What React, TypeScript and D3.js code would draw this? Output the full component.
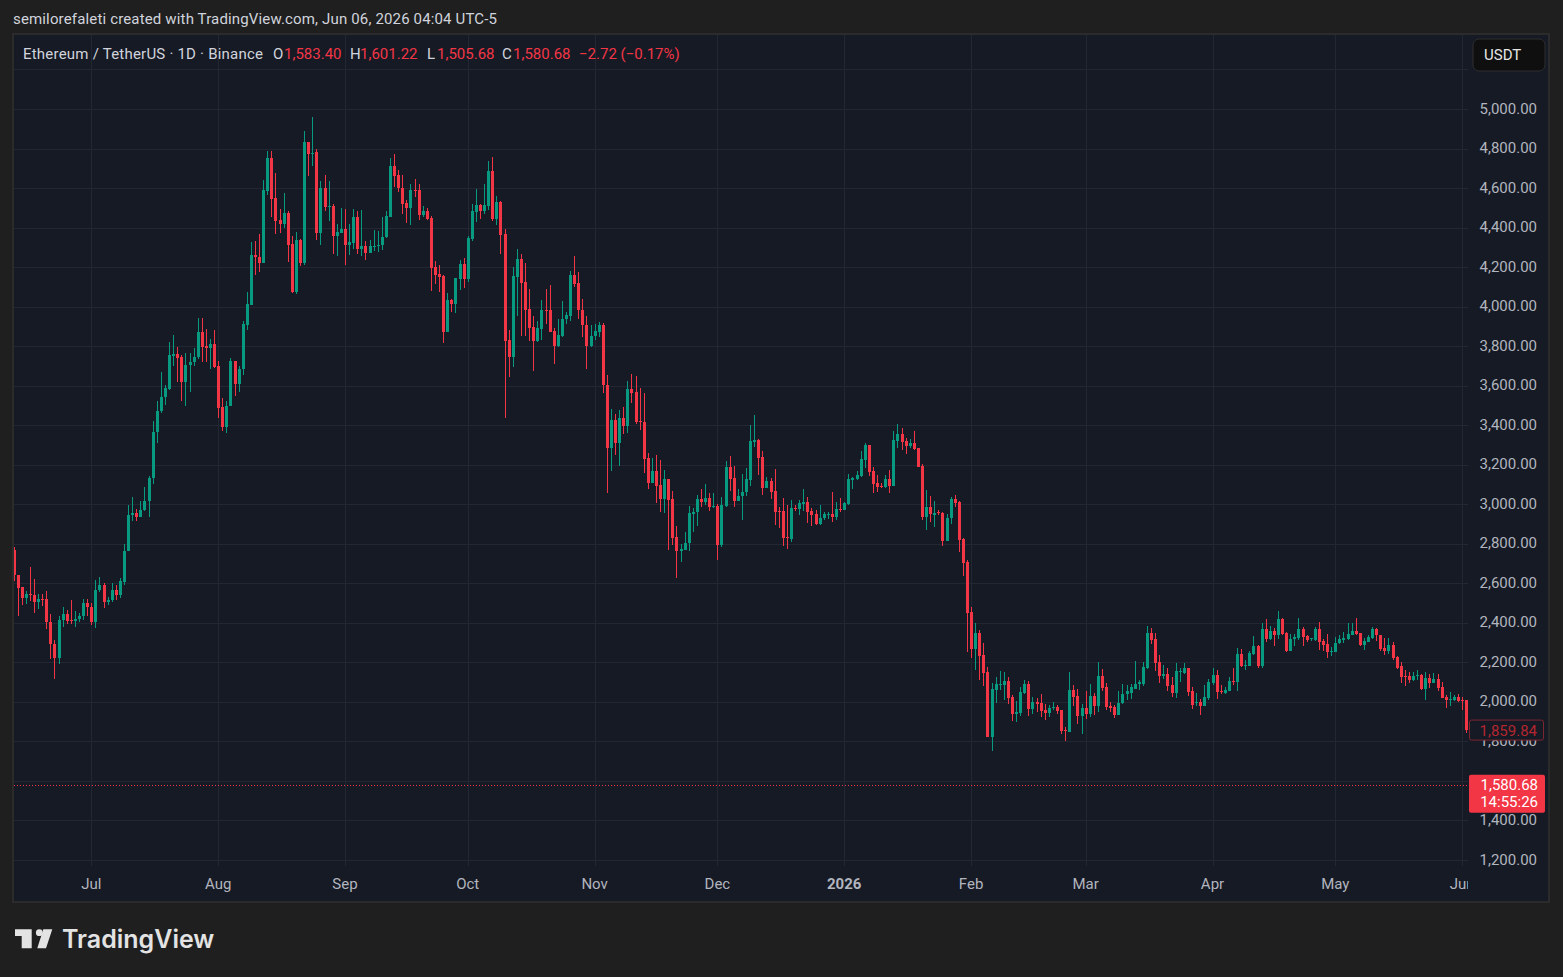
import React from 'react';
import * as d3 from 'd3';

// daily candles, first one is 2025-06-12
const firstDay = '2025-06-12';

const opens = [
  2771, 2644, 2579, 2525, 2548, 2543, 2503, 2523, 2520, 2403, 2292, 2224, 2412, 2447, 2412, 2410, 2418, 2437, 2498, 2481,
  2403, 2568, 2589, 2504, 2518, 2568, 2540, 2609, 2766, 2948, 2958, 2938, 2973, 3014, 3135, 3368, 3474, 3545, 3584, 3750,
  3762, 3747, 3621, 3707, 3722, 3743, 3870, 3800, 3793, 3812, 3700, 3493, 3393, 3495, 3726, 3611, 3682, 3908, 4009, 4262,
  4252, 4222, 4586, 4754, 4551, 4440, 4419, 4475, 4318, 4072, 4338, 4222, 4835, 4774, 4784, 4374, 4602, 4505, 4510, 4359,
  4374, 4394, 4313, 4323, 4455, 4293, 4308, 4273, 4303, 4308, 4313, 4354, 4453, 4711, 4665, 4601, 4524, 4498, 4590, 4589,
  4465, 4483, 4448, 4200, 4165, 4155, 3872, 4033, 4015, 4141, 4215, 4141, 4342, 4478, 4514, 4485, 4510, 4685, 4443, 4529,
  4367, 3831, 3745, 4152, 4241, 4124, 3988, 3897, 3826, 3888, 3983, 3983, 3877, 3801, 3851, 3937, 3955, 4161, 4121, 3984,
  3908, 3802, 3849, 3874, 3908, 3604, 3287, 3427, 3312, 3437, 3398, 3584, 3569, 3422, 3417, 3234, 3110, 3170, 3100, 3029,
  3130, 3029, 2836, 2765, 2771, 2806, 2953, 2963, 3029, 3013, 3034, 2988, 2993, 2794, 2993, 3191, 3135, 3018, 3044, 3061,
  3122, 3315, 3325, 3239, 3081, 3117, 3066, 2964, 2964, 2832, 2822, 2979, 2974, 3000, 3010, 2964, 2949, 2898, 2929, 2944,
  2949, 2934, 2974, 2969, 3000, 3122, 3127, 3142, 3224, 3300, 3168, 3107, 3091, 3086, 3127, 3091, 3320, 3356, 3320, 3295,
  3310, 3285, 3193, 2934, 2985, 2944, 2960, 2956, 2816, 2931, 3027, 3012, 2826, 2708, 2455, 2269, 2348, 2239, 2153, 1823,
  2061, 2085, 2087, 2107, 2026, 1940, 1945, 2046, 2092, 1965, 2001, 1996, 1960, 1945, 1970, 1975, 1960, 1859, 1849, 2061,
  2031, 1930, 1970, 1940, 2031, 1980, 2132, 2077, 1980, 1975, 1935, 1996, 2040, 2047, 2067, 2093, 2093, 2174, 2351, 2316,
  2204, 2133, 2143, 2083, 2047, 2150, 2148, 2169, 2057, 1994, 1997, 1981, 2022, 2098, 2138, 2057, 2047, 2057, 2108, 2103,
  2240, 2184, 2184, 2240, 2285, 2184, 2371, 2316, 2361, 2341, 2417, 2351, 2260, 2316, 2321, 2371, 2331, 2316, 2311, 2371,
  2306, 2291, 2250, 2250, 2296, 2311, 2316, 2341, 2361, 2351, 2286, 2301, 2321, 2371, 2341, 2275, 2255, 2286, 2225, 2180,
  2129, 2129, 2109, 2129, 2134, 2064, 2119, 2094, 2114, 2074, 2024, 2008, 2008, 2024, 2008, 2008,
];

const highs = [
  2786, 2644, 2579, 2560, 2681, 2621, 2546, 2546, 2563, 2447, 2315, 2437, 2482, 2466, 2514, 2460, 2450, 2523, 2523, 2498,
  2619, 2634, 2604, 2530, 2602, 2589, 2629, 2798, 2998, 3039, 2978, 3019, 3085, 3145, 3423, 3525, 3671, 3605, 3823, 3858,
  3798, 3757, 3767, 3767, 3793, 3940, 3940, 3886, 3837, 3883, 3726, 3538, 3523, 3741, 3726, 3700, 3928, 4075, 4328, 4333,
  4368, 4642, 4789, 4789, 4678, 4495, 4576, 4485, 4359, 4379, 4343, 4890, 4835, 4961, 4799, 4637, 4667, 4637, 4521, 4419,
  4500, 4495, 4419, 4495, 4485, 4490, 4333, 4338, 4389, 4384, 4455, 4485, 4751, 4771, 4690, 4667, 4539, 4620, 4645, 4620,
  4509, 4498, 4460, 4230, 4212, 4160, 4069, 4038, 4145, 4236, 4246, 4357, 4519, 4594, 4519, 4620, 4736, 4756, 4559, 4534,
  4392, 3881, 4200, 4291, 4266, 4220, 4089, 3953, 3927, 4033, 4089, 4109, 3892, 3937, 4030, 3974, 4181, 4257, 4176, 4040,
  3954, 3908, 3913, 3923, 3918, 3655, 3483, 3457, 3478, 3493, 3625, 3660, 3650, 3586, 3565, 3260, 3234, 3249, 3224, 3175,
  3130, 3069, 2892, 2800, 2862, 2993, 2983, 3049, 3075, 3105, 3059, 3059, 3003, 3039, 3221, 3246, 3196, 3075, 3155, 3186,
  3402, 3453, 3330, 3269, 3137, 3132, 3178, 2985, 3030, 2998, 3020, 2995, 3020, 3076, 3035, 2980, 2969, 2995, 2959, 2959,
  3061, 3010, 3030, 3010, 3153, 3137, 3168, 3269, 3310, 3300, 3188, 3147, 3107, 3147, 3173, 3371, 3407, 3386, 3336, 3330,
  3371, 3285, 3203, 3071, 3041, 3015, 2970, 2961, 2951, 3037, 3047, 3017, 2831, 2718, 2480, 2399, 2364, 2300, 2176, 2097,
  2127, 2156, 2153, 2127, 2036, 2006, 2077, 2112, 2107, 2026, 2021, 2041, 1991, 1986, 2001, 1986, 1960, 1874, 2153, 2087,
  2067, 1991, 2056, 2092, 2046, 2203, 2168, 2097, 2001, 1986, 2056, 2090, 2085, 2093, 2209, 2113, 2204, 2386, 2376, 2351,
  2235, 2189, 2169, 2128, 2199, 2174, 2199, 2174, 2073, 2047, 2017, 2083, 2118, 2169, 2159, 2083, 2073, 2128, 2174, 2275,
  2270, 2214, 2260, 2331, 2290, 2397, 2417, 2386, 2376, 2462, 2427, 2356, 2346, 2346, 2422, 2381, 2336, 2321, 2381, 2402,
  2316, 2346, 2280, 2326, 2341, 2356, 2397, 2397, 2422, 2351, 2321, 2336, 2381, 2376, 2341, 2321, 2321, 2301, 2230, 2200,
  2159, 2149, 2149, 2159, 2139, 2149, 2139, 2144, 2139, 2099, 2034, 2049, 2034, 2039, 2024, 2008,
];

const lows = [
  2614, 2437, 2488, 2494, 2513, 2452, 2469, 2483, 2368, 2216, 2115, 2190, 2378, 2393, 2393, 2380, 2406, 2416, 2434, 2387,
  2372, 2555, 2474, 2489, 2507, 2516, 2525, 2589, 2761, 2916, 2916, 2938, 2968, 2937, 3101, 3312, 3464, 3504, 3579, 3700,
  3617, 3524, 3499, 3570, 3701, 3737, 3722, 3722, 3682, 3687, 3434, 3373, 3361, 3495, 3550, 3570, 3652, 3884, 4009, 4158,
  4173, 4222, 4566, 4455, 4369, 4371, 4399, 4227, 4068, 4065, 4207, 4212, 4662, 4713, 4338, 4313, 4485, 4435, 4267, 4257,
  4374, 4212, 4262, 4293, 4267, 4257, 4237, 4273, 4283, 4278, 4288, 4349, 4453, 4607, 4581, 4470, 4424, 4414, 4556, 4439,
  4455, 4439, 4081, 4115, 4075, 3818, 3872, 3975, 3970, 4086, 4096, 4126, 4332, 4428, 4444, 4470, 4490, 4434, 4414, 4266,
  3439, 3646, 3695, 3955, 3850, 3850, 3828, 3676, 3823, 3830, 3914, 3872, 3710, 3796, 3847, 3912, 3925, 4097, 3935, 3844,
  3682, 3797, 3833, 3844, 3565, 3059, 3170, 3251, 3195, 3357, 3362, 3510, 3408, 3375, 3160, 3075, 3110, 3008, 2963, 2958,
  2771, 2794, 2628, 2710, 2771, 2765, 2862, 2892, 2988, 2998, 2968, 2983, 2719, 2785, 2988, 3069, 2988, 3018, 2918, 3041,
  3092, 3290, 3147, 3046, 3081, 3025, 2893, 2878, 2791, 2774, 2807, 2964, 2944, 2964, 2903, 2888, 2893, 2893, 2918, 2924,
  2908, 2918, 2959, 2969, 2995, 3076, 3122, 3137, 3183, 3142, 3056, 3061, 3081, 3081, 3056, 3091, 3285, 3273, 3254, 3285,
  3275, 3188, 2918, 2868, 2908, 2885, 2945, 2791, 2816, 2900, 2986, 2760, 2637, 2254, 2224, 2163, 2112, 2082, 1823, 1752,
  1996, 2062, 2011, 1991, 1904, 1899, 1930, 2041, 1930, 1940, 1950, 1925, 1910, 1925, 1960, 1940, 1839, 1803, 1849, 1980,
  1889, 1839, 1915, 1925, 1935, 1950, 2056, 1960, 1950, 1920, 1935, 1990, 2010, 2017, 2067, 2062, 2078, 2164, 2295, 2154,
  2098, 2118, 2057, 2027, 2022, 2103, 2143, 2032, 1966, 1981, 1936, 1981, 2012, 2088, 2017, 2042, 2042, 2057, 2088, 2057,
  2179, 2159, 2184, 2235, 2174, 2174, 2301, 2311, 2285, 2316, 2341, 2250, 2260, 2285, 2311, 2285, 2301, 2306, 2306, 2265,
  2260, 2220, 2230, 2250, 2291, 2296, 2311, 2336, 2336, 2281, 2265, 2301, 2316, 2306, 2255, 2235, 2240, 2210, 2164, 2094,
  2079, 2094, 2104, 2109, 2059, 2008, 2069, 2094, 2054, 2019, 1969, 1978, 2003, 1998, 1958, 1842,
];

const closes = [
  2640, 2575, 2525, 2548, 2543, 2503, 2523, 2520, 2403, 2292, 2224, 2412, 2447, 2408, 2410, 2420, 2437, 2498, 2479, 2403,
  2568, 2589, 2504, 2518, 2568, 2540, 2614, 2766, 2948, 2958, 2938, 2973, 3014, 3135, 3368, 3474, 3545, 3589, 3757, 3762,
  3742, 3621, 3707, 3722, 3744, 3870, 3798, 3793, 3812, 3697, 3489, 3393, 3498, 3726, 3611, 3685, 3913, 4014, 4262, 4249,
  4222, 4592, 4754, 4546, 4435, 4419, 4475, 4313, 4072, 4338, 4222, 4835, 4774, 4779, 4374, 4602, 4505, 4510, 4359, 4379,
  4394, 4313, 4328, 4455, 4293, 4308, 4273, 4308, 4308, 4313, 4354, 4460, 4711, 4662, 4601, 4520, 4498, 4589, 4586, 4465,
  4485, 4444, 4197, 4161, 4152, 3872, 4033, 4015, 4145, 4215, 4141, 4347, 4483, 4514, 4485, 4514, 4685, 4443, 4529, 4362,
  3826, 3745, 4155, 4241, 4121, 3984, 3894, 3826, 3892, 3983, 3978, 3872, 3801, 3856, 3937, 3958, 4161, 4117, 3981, 3905,
  3802, 3852, 3878, 3908, 3601, 3287, 3427, 3312, 3437, 3398, 3584, 3564, 3418, 3417, 3229, 3110, 3170, 3094, 3029, 3130,
  3023, 2831, 2765, 2775, 2806, 2958, 2963, 3029, 3013, 3034, 2988, 2993, 2794, 2998, 3191, 3130, 3018, 3044, 3064, 3127,
  3320, 3325, 3234, 3081, 3117, 3061, 2959, 2959, 2827, 2827, 2979, 2974, 3005, 3010, 2959, 2944, 2898, 2929, 2949, 2949,
  2934, 2974, 2969, 3005, 3127, 3132, 3147, 3229, 3300, 3163, 3102, 3086, 3086, 3127, 3091, 3325, 3356, 3315, 3295, 3310,
  3280, 3188, 2934, 2985, 2949, 2955, 2955, 2816, 2931, 3027, 3007, 2821, 2705, 2451, 2269, 2348, 2234, 2148, 1823, 2067,
  2090, 2090, 2107, 2021, 1940, 1950, 2051, 2092, 1965, 2001, 1991, 1955, 1945, 1970, 1975, 1955, 1854, 1854, 2061, 2026,
  1930, 1970, 1940, 2031, 1980, 2132, 2072, 1975, 1970, 1935, 1996, 2040, 2054, 2073, 2093, 2103, 2179, 2351, 2311, 2199,
  2133, 2143, 2078, 2047, 2154, 2154, 2169, 2052, 1986, 1997, 1981, 2027, 2103, 2138, 2052, 2052, 2062, 2108, 2103, 2240,
  2184, 2189, 2245, 2285, 2184, 2371, 2316, 2361, 2341, 2417, 2346, 2255, 2316, 2326, 2371, 2326, 2311, 2321, 2371, 2301,
  2286, 2250, 2255, 2296, 2316, 2321, 2346, 2361, 2346, 2286, 2306, 2326, 2371, 2336, 2270, 2255, 2286, 2220, 2170, 2124,
  2124, 2109, 2129, 2134, 2064, 2119, 2094, 2114, 2069, 2019, 2008, 2013, 2024, 2003, 2003, 1860,
];

const priceTicks = [1200, 1400, 1600, 1800, 2000, 2200, 2400, 2600, 2800, 3000, 3200, 3400, 3600, 3800, 4000, 4200, 4400, 4600, 4800, 5000, 5200];
// labels that the reference shows on the price scale (5200 and 1600 sit under the badges)
const priceLabels = [1200, 1400, 1800, 2000, 2200, 2400, 2600, 2800, 3000, 3200, 3400, 3600, 3800, 4000, 4200, 4400, 4600, 4800, 5000];
const monthStarts = ['2025-07-01', '2025-08-01', '2025-09-01', '2025-10-01', '2025-11-01', '2025-12-01', '2026-01-01', '2026-02-01', '2026-03-01', '2026-04-01', '2026-05-01', '2026-06-01'];
const monthLabels = ['Jul', 'Aug', 'Sep', 'Oct', 'Nov', 'Dec', '2026', 'Feb', 'Mar', 'Apr', 'May', 'Jun'];

const lastClose = 1859.84;
const livePrice = 1580.68;
const countdown = '14:55:26';
const legendValues = ['1,583.40', '1,601.22', '1,505.68', '1,580.68'];
const legendChange = '\u22122.72 (\u22120.17%)';

const W = 1563;
const H = 977;
const plot = { left: 14, right: 1468, top: 35, bottom: 866 };
const UP = '#089981';
const DOWN = '#f23645';
const FONT = 'Roboto, "Noto Sans", sans-serif';

const App: React.FC = () => {
  const start = d3.utcParse('%Y-%m-%d')(firstDay) as Date;
  const dates = closes.map((_, i) => d3.utcDay.offset(start, i));

  const x = d3.scaleUtc()
    .domain([start, d3.utcDay.offset(start, 359)])
    .range([13.55, 13.55 + 359 * 4.092]);

  const y = d3.scaleLinear()
    .domain([1200, 5000])
    .range([860, 109]);

  const fmt = d3.format(',.2f');
  const parse = d3.utcParse('%Y-%m-%d');

  return (
    <div style={{ position: 'fixed', left: 0, top: 0 }}>
      <svg width={W} height={H} style={{ display: 'block' }} fontFamily={FONT}>
        <defs>
          <clipPath id="plotClip">
            <rect x={plot.left} y={plot.top} width={plot.right - plot.left} height={plot.bottom - plot.top} />
          </clipPath>
          <clipPath id="timeClip">
            <rect x={plot.left} y={plot.bottom} width={plot.right - plot.left} height={34} />
          </clipPath>
        </defs>

        <rect width={W} height={H} fill="#1f1f1f" />
        <text x={13} y={19} fontSize={15} fill="#d1d4dc" dominantBaseline="central" textLength={484} lengthAdjust="spacing">
          semilorefaleti created with TradingView.com, Jun 06, 2026 04:04 UTC-5
        </text>

        {/* panel */}
        <rect x={12} y={33} width={1538} height={870} fill="#2b2b2b" />
        <rect x={14} y={35} width={1534} height={866} fill="#161a25" />

        {/* grid */}
        <g shapeRendering="crispEdges" clipPath="url(#plotClip)">
          {priceTicks.map(t => (
            <line key={t} x1={plot.left} x2={plot.right} y1={Math.round(y(t)) + 0.5} y2={Math.round(y(t)) + 0.5} stroke="#232734" />
          ))}
          {monthStarts.map(m => {
            const xx = Math.round(x(parse(m) as Date)) + 0.5;
            return <line key={m} x1={xx} x2={xx} y1={plot.top} y2={plot.bottom} stroke="#232734" />;
          })}
        </g>

        {/* candles */}
        <g shapeRendering="crispEdges" clipPath="url(#plotClip)">
          {dates.map((d, i) => {
            const o = opens[i], c = closes[i], hi = highs[i], lo = lows[i];
            const col = c >= o ? UP : DOWN;
            const cx = Math.round(x(d));
            const top = Math.round(y(Math.max(o, c)));
            const bot = Math.round(y(Math.min(o, c)));
            return (
              <g key={i} fill={col}>
                <rect x={cx} y={Math.round(y(hi))} width={1} height={Math.max(1, Math.round(y(lo)) - Math.round(y(hi)))} />
                <rect x={cx - 1} y={top} width={3} height={Math.max(1, bot - top)} />
              </g>
            );
          })}
        </g>

        {/* live price line */}
        <line
          x1={plot.left} x2={plot.right}
          y1={Math.round(y(livePrice)) + 0.5} y2={Math.round(y(livePrice)) + 0.5}
          stroke={DOWN} strokeDasharray="1 2" shapeRendering="crispEdges"
        />

        {/* legend */}
        <g fontSize={15} dominantBaseline="central">
          <text x={23} y={54} fill="#d1d4dc" textLength={240} lengthAdjust="spacing">Ethereum / TetherUS · 1D · Binance</text>
          <text x={273} y={54} fill="#d1d4dc">O</text>
          <text x={284} y={54} fill={DOWN}>{legendValues[0]}</text>
          <text x={350} y={54} fill="#d1d4dc">H</text>
          <text x={360} y={54} fill={DOWN}>{legendValues[1]}</text>
          <text x={427} y={54} fill="#d1d4dc">L</text>
          <text x={437} y={54} fill={DOWN}>{legendValues[2]}</text>
          <text x={502} y={54} fill="#d1d4dc">C</text>
          <text x={513} y={54} fill={DOWN}>{legendValues[3]}</text>
          <text x={579} y={54} fill={DOWN}>{legendChange}</text>
        </g>

        {/* price axis */}
        <g fontSize={15} fill="#b2b5be" textAnchor="end" dominantBaseline="central">
          {priceLabels.map(t => (
            <text key={t} x={1537} y={y(t) - 0.5}>{fmt(t)}</text>
          ))}
        </g>

        {/* time axis */}
        <g fontSize={15} fill="#b2b5be" textAnchor="middle" dominantBaseline="central" clipPath="url(#timeClip)">
          {monthStarts.map((m, i) => (
            <text key={m} x={x(parse(m) as Date)} y={884} fontWeight={monthLabels[i] === '2026' ? 700 : 400}>
              {monthLabels[i]}
            </text>
          ))}
        </g>

        {/* currency button */}
        <rect x={1473} y={39} width={72} height={32} rx={6} fill="#0f0f0f" stroke="#2e2e2e" />
        <text x={1484} y={55} fontSize={15} fill="#e6e6e6" dominantBaseline="central">USDT</text>

        {/* last close label */}
        <rect x={1469.5} y={y(lastClose) - 9.5} width={74} height={20} rx={2} fill="#161a25" stroke="#7d2630" />
        <text x={1537} y={y(lastClose) + 1} fontSize={15} fill="#b3262f" textAnchor="end" dominantBaseline="central">
          {fmt(lastClose)}
        </text>

        {/* live price label */}
        <rect x={1469} y={y(livePrice) - 10} width={76} height={38} rx={2} fill={DOWN} />
        <text x={1538} y={y(livePrice) + 0.5} fontSize={15} fill="#ffffff" textAnchor="end" dominantBaseline="central">
          {fmt(livePrice)}
        </text>
        <text x={1538} y={y(livePrice) + 17.5} fontSize={15} fill="#ffffff" textAnchor="end" dominantBaseline="central">
          {countdown}
        </text>

        {/* TradingView logo */}
        <g fill="#e3e3e3">
          <path d="M15,929.3 H31.7 V948.3 H21.7 V936 H15 Z" />
          <circle cx={39.3} cy={932.7} r={3.4} />
          <path d="M43.3,929.3 H52.3 L46,948.3 H37.3 Z" />
          <text x={62} y={948} fontSize={25} fontWeight={600} fontFamily='Inter, "Open Sans", sans-serif'>TradingView</text>
        </g>
      </svg>
    </div>
  );
};

export default App;
